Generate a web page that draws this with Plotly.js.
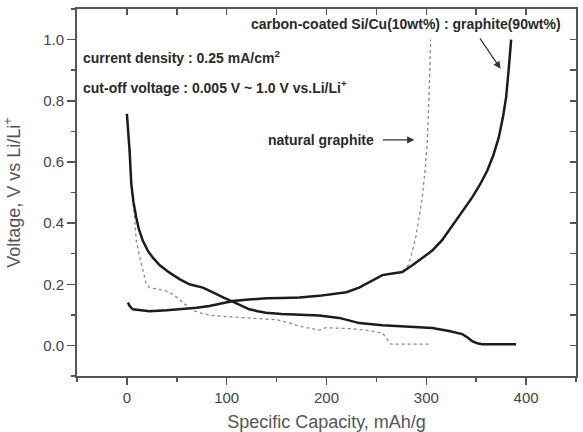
<!DOCTYPE html>
<html><head><meta charset="utf-8">
<script src="https://cdn.plot.ly/plotly-3.0.1.min.js"></script>
<style>html,body{margin:0;padding:0;background:#fff}#chart{width:583px;height:432px}</style>
</head><body><div id="chart"></div>
<script>
// carbon-coated Si/Cu(10wt%) : graphite(90wt%) — discharge (lithiation)
const compDischargeX = [0, 1.5, 2.7, 4.4, 6.5, 9.4, 12, 16, 21, 26, 33, 42.7, 52.7, 62.7, 69.4, 76, 82, 89.4, 97, 106, 114, 122.7, 131, 139.4, 155, 172.7, 192.7, 212.7, 233, 256, 283, 306, 322.7, 336, 341, 346, 351, 356, 370, 390];
const compDischargeY = [0.757, 0.70, 0.637, 0.528, 0.47, 0.418, 0.38, 0.342, 0.309, 0.287, 0.262, 0.238, 0.217, 0.200, 0.194, 0.189, 0.180, 0.167, 0.156, 0.143, 0.130, 0.118, 0.112, 0.107, 0.103, 0.100, 0.098, 0.090, 0.073, 0.066, 0.060, 0.057, 0.047, 0.037, 0.027, 0.014, 0.007, 0.004, 0.004, 0.004];
// carbon-coated Si/Cu(10wt%) : graphite(90wt%) — charge (delithiation)
const compChargeX = [1, 3, 6, 14, 22.7, 40, 56, 70, 82.7, 95, 106, 122, 139.4, 155, 172.7, 192.7, 206, 220, 232.7, 245, 256, 266, 276, 286, 296, 306, 316, 329.4, 338, 346, 354, 361, 367, 372.7, 377, 380, 382.5, 385];
const compChargeY = [0.140, 0.128, 0.118, 0.114, 0.112, 0.115, 0.118, 0.123, 0.129, 0.137, 0.145, 0.150, 0.154, 0.155, 0.157, 0.162, 0.167, 0.174, 0.189, 0.21, 0.230, 0.235, 0.240, 0.262, 0.285, 0.31, 0.345, 0.408, 0.445, 0.484, 0.527, 0.571, 0.62, 0.681, 0.75, 0.812, 0.90, 1.0];
// natural graphite — discharge
const ngDischargeX = [0, 1.5, 2.7, 5, 7.7, 9.4, 12.7, 16, 19.4, 22.7, 30, 39.4, 46, 52.7, 57, 62.7, 68, 72.7, 82.7, 95, 106, 125, 139.4, 150, 160, 172.7, 193, 199.4, 222.7, 239.4, 256, 260, 264.4, 280, 303];
const ngDischargeY = [0.757, 0.68, 0.6, 0.5, 0.418, 0.342, 0.29, 0.24, 0.2, 0.189, 0.185, 0.178, 0.167, 0.151, 0.137, 0.123, 0.113, 0.107, 0.099, 0.095, 0.093, 0.090, 0.088, 0.084, 0.076, 0.063, 0.050, 0.058, 0.055, 0.050, 0.041, 0.023, 0.004, 0.004, 0.004];
// natural graphite — charge
const ngChargeX = [2, 6, 16, 42, 70, 95, 122, 155, 173, 193, 220, 233, 256, 276, 282.7, 289.4, 296, 299, 301, 302.7, 304.4];
const ngChargeY = [0.133, 0.118, 0.114, 0.115, 0.123, 0.137, 0.150, 0.155, 0.157, 0.162, 0.174, 0.189, 0.230, 0.240, 0.266, 0.353, 0.484, 0.58, 0.67, 0.812, 1.0];

const xRange = [-50, 450];
const yRange = [-0.1, 1.1];
const xTitle = 'Specific Capacity, mAh/g';
const yTitle = 'Voltage, V vs Li/Li<sup>+</sup>';
const labelComposite = '<b>carbon-coated Si/Cu(10wt%) : graphite(90wt%)</b>';
const labelNatural = '<b>natural graphite</b>';
const labelCurrent = '<b>current density : 0.25 mA/cm<sup>2</sup></b>';
const labelCutoff = '<b>cut-off voltage : 0.005 V ~ 1.0 V vs.Li/Li<sup>+</sup></b>';

const FONT = 'Liberation Sans, Arial, sans-serif';
const AX = '#555';

const solid = {color: '#1c1c1c', width: 2.5};
const dotted = {color: '#8a8a8a', width: 1.3, dash: 'dot'};

const traces = [
  {x: ngDischargeX, y: ngDischargeY, mode: 'lines', line: dotted, hoverinfo: 'skip'},
  {x: ngChargeX, y: ngChargeY, mode: 'lines', line: dotted, hoverinfo: 'skip'},
  {x: compDischargeX, y: compDischargeY, xaxis: 'x2', yaxis: 'y', mode: 'lines', line: solid, hoverinfo: 'skip'},
  {x: compChargeX, y: compChargeY, xaxis: 'x', yaxis: 'y2', mode: 'lines', line: solid, hoverinfo: 'skip'}
];

const annFont = {family: FONT, size: 14, color: '#2a2a2a'};
const layout = {
  width: 583, height: 432,
  margin: {l: 77, r: 7, t: 9, b: 56},
  paper_bgcolor: '#fff', plot_bgcolor: '#fff',
  showlegend: false,
  font: {family: FONT, color: '#444'},
  xaxis: {
    range: xRange, autorange: false, showgrid: false, zeroline: false,
    showline: true, linecolor: AX, linewidth: 2,
    ticks: 'outside', ticklen: 7, tickwidth: 1.5, tickcolor: AX,
    tick0: 0, dtick: 100,
    minor: {dtick: 50, ticks: 'outside', ticklen: 4, tickwidth: 1.5, tickcolor: AX, showgrid: false},
    tickfont: {family: FONT, size: 15, color: '#444'},
    title: {text: xTitle, font: {family: FONT, size: 18, color: '#555'}, standoff: 10}
  },
  xaxis2: {
    range: xRange, autorange: false, overlaying: 'x', side: 'top', anchor: 'y',
    showgrid: false, zeroline: false, showline: true, linecolor: AX, linewidth: 2, showticklabels: false,
    ticks: 'inside', ticklen: 6, tickwidth: 1.5, tickcolor: AX, tick0: 0, dtick: 50
  },
  yaxis: {
    range: yRange, autorange: false, showgrid: false, zeroline: false,
    showline: true, linecolor: AX, linewidth: 2,
    ticks: 'outside', ticklen: 8, tickwidth: 1.5, tickcolor: AX,
    tick0: 0, dtick: 0.2, tickformat: '.1f',
    minor: {dtick: 0.1, ticks: 'outside', ticklen: 4, tickwidth: 1.5, tickcolor: AX, showgrid: false},
    tickfont: {family: FONT, size: 15, color: '#444'},
    title: {text: yTitle, font: {family: FONT, size: 18, color: '#555'}, standoff: 18}
  },
  yaxis2: {
    range: yRange, autorange: false, overlaying: 'y', side: 'right', anchor: 'x',
    showgrid: false, zeroline: false, showline: true, linecolor: AX, linewidth: 2, showticklabels: false,
    ticks: 'inside', ticklen: 6, tickwidth: 1.5, tickcolor: AX, tick0: 0, dtick: 0.1
  },
  annotations: [
    {x: 280, y: 1.05, xref: 'x', yref: 'y', text: labelComposite, showarrow: false, xanchor: 'center', yanchor: 'middle', font: annFont},
    {x: 374.4, y: 0.905, ax: 352.7, ay: 1.009, axref: 'x', ayref: 'y', xref: 'x', yref: 'y', text: '', showarrow: true, arrowhead: 2, arrowsize: 1.2, arrowwidth: 1.2, arrowcolor: '#333'},
    {x: 194, y: 0.672, xref: 'x', yref: 'y', text: labelNatural, showarrow: false, xanchor: 'center', yanchor: 'middle', font: annFont},
    {x: 288, y: 0.672, ax: 255, ay: 0.672, axref: 'x', ayref: 'y', xref: 'x', yref: 'y', text: '', showarrow: true, arrowhead: 2, arrowsize: 1.2, arrowwidth: 1.2, arrowcolor: '#333'},
    {x: -46, y: 0.942, xref: 'x', yref: 'y', text: labelCurrent, showarrow: false, xanchor: 'left', yanchor: 'middle', font: annFont},
    {x: -46, y: 0.844, xref: 'x', yref: 'y', text: labelCutoff, showarrow: false, xanchor: 'left', yanchor: 'middle', font: annFont}
  ]
};

Plotly.newPlot('chart', traces, layout, {staticPlot: true, displayModeBar: false});
</script>
</body></html>
